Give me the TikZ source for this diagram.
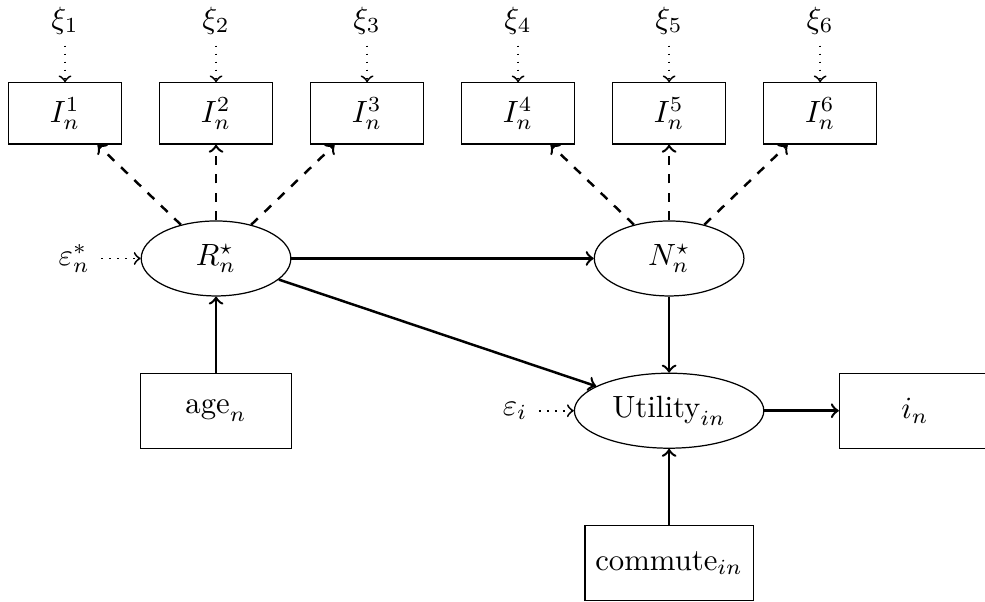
\documentclass[tikz,border=0pt]{standalone}
\usepackage{xcolor}
\usepackage{amsmath}
\usepackage{tikz}
\usetikzlibrary{shapes.geometric}

\begin{document}
\begin{tikzpicture}[->,auto,node distance=1.726cm,thick,
    ind node/.style={rectangle,draw,thin,minimum width=1.29cm,minimum height=0.70cm},
    lat node/.style={ellipse,draw,thin,minimum width=1.71cm,minimum height=0.857cm},
    obs node/.style={rectangle,draw,thin,minimum width=1.726cm,minimum height=0.857cm},
    err/.style={semithick,dotted}]
    \useasboundingbox (0,0) rectangle (11.257,-6.88);
    % indicators
    \node[ind node] (I1) at (0.743,-1.297) {$I_n^1$};
    \node[ind node] (I2) [right of=I1] {$I_n^2$};
    \node[ind node] (I3) [right of=I2] {$I_n^3$};
    \node[ind node] (I4) [right of=I3] {$I_n^4$};
    \node[ind node] (I5) [right of=I4] {$I_n^5$};
    \node[ind node] (I6) [right of=I5] {$I_n^6$};
    \node (xi1) [above of=I1,node distance=1.063cm] {$\xi_1$};
    \node (xi2) [above of=I2,node distance=1.063cm] {$\xi_2$};
    \node (xi3) [above of=I3,node distance=1.063cm] {$\xi_3$};
    \node (xi4) [above of=I4,node distance=1.063cm] {$\xi_4$};
    \node (xi5) [above of=I5,node distance=1.063cm] {$\xi_5$};
    \node (xi6) [above of=I6,node distance=1.063cm] {$\xi_6$};
    % latent variables and utility
    \node[lat node] (R) [below of=I2,node distance=1.657cm] {$R_n^\star$};
    \node[lat node] (N) [below of=I5,node distance=1.657cm] {$N_n^\star$};
    \node (epsR) [left of=R,node distance=1.62cm] {$\varepsilon_n^*$};
    \node[obs node] (age) [below of=R,node distance=1.74cm] {$\text{age}_n$};
    \node[lat node] (U) [below of=N,node distance=1.74cm] {$\text{Utility}_{in}$};
    \node (epsU) [left of=U,node distance=1.76cm] {$\varepsilon_i$};
    \node[obs node] (ch) [right of=U,node distance=2.81cm] {$i_n$};
    \node[obs node] (com) [below of=U,node distance=1.74cm] {$\text{commute}_{in}$};

    \draw[err] (xi1) -- (I1);
    \draw[err] (xi2) -- (I2);
    \draw[err] (xi3) -- (I3);
    \draw[err] (xi4) -- (I4);
    \draw[err] (xi5) -- (I5);
    \draw[err] (xi6) -- (I6);
    \draw[dashed] (R) -- (I1);
    \draw[dashed] (R) -- (I2);
    \draw[dashed] (R) -- (I3);
    \draw[dashed] (N) -- (I4);
    \draw[dashed] (N) -- (I5);
    \draw[dashed] (N) -- (I6);
    \draw[err] (epsR) -- (R);
    \draw[err] (epsU) -- (U);
    \draw (R) -- (N);
    \draw (R) -- (U);
    \draw (N) -- (U);
    \draw (age) -- (R);
    \draw (com) -- (U);
    \draw (U) -- (ch);
  \end{tikzpicture}
\end{document}
